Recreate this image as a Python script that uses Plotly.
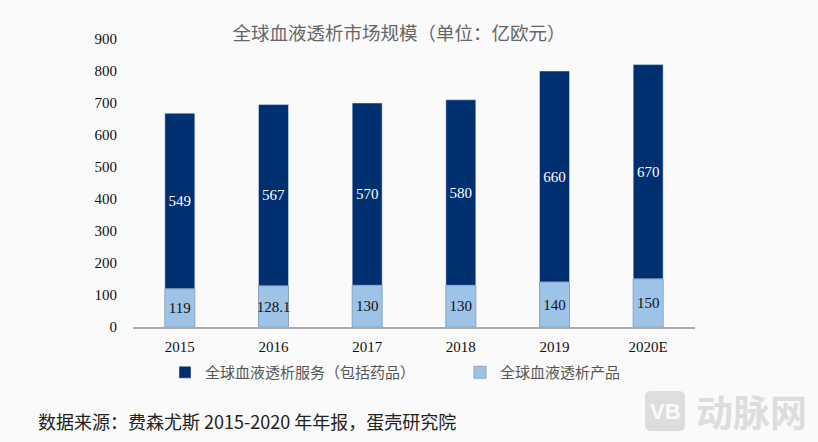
import plotly.graph_objects as go

years = ["2015", "2016", "2017", "2018", "2019", "2020E"]
products = [119, 128.1, 130, 130, 140, 150]
services = [549, 567, 570, 580, 660, 670]
product_labels = ["119", "128.1", "130", "130", "140", "150"]
service_labels = ["549", "567", "570", "580", "660", "670"]
SERIF = "Liberation Serif, Noto Sans CJK SC"
CJK = "Noto Sans CJK SC"
BG = "#fafafa"
ML, MR = 20, 798
L, T, R, B = 133, 39, 695, 327


def px(x):
    return (x - ML) / (MR - ML)


def py(y):
    return (B - y) / (B - T)


def rounded(x0, y0, x1, y1, r):
    a0, a1, ar = px(x0), px(x1), r / (MR - ML)
    b0, b1, br = py(y1), py(y0), r / (B - T)
    return (f"M{a0+ar},{b0} L{a1-ar},{b0} Q{a1},{b0} {a1},{b0+br} L{a1},{b1-br} Q{a1},{b1} {a1-ar},{b1} "
            f"L{a0+ar},{b1} Q{a0},{b1} {a0},{b1-br} L{a0},{b0+br} Q{a0},{b0} {a0+ar},{b0} Z")


fig = go.Figure()
fig.add_bar(x=years, y=services, base=products, name="全球血液透析服务（包括药品）", marker_color="#003070",
            text=service_labels, textposition="inside", insidetextanchor="middle", textangle=0, constraintext="none",
            textfont=dict(color="white", size=15, family=SERIF))
fig.add_bar(x=years, y=products, name="全球血液透析产品", marker_color="#9DC3E6",
            marker_line=dict(color="#8aa5c0", width=1),
            text=product_labels, textposition="inside", insidetextanchor="middle", textangle=0, constraintext="none",
            textfont=dict(color="#111", size=15, family=SERIF))
fig.update_layout(
    barmode="overlay", width=818, height=442, bargap=0.68, autosize=False,
    paper_bgcolor=BG, plot_bgcolor=BG,
    margin=dict(l=ML, r=818 - MR, t=T, b=442 - B),
    title=dict(text="全球血液透析市场规模（单位：亿欧元）", x=399 / 818, xanchor="center", y=1 - 34 / 442, yanchor="middle",
               font=dict(family=CJK, size=18.5, color="#666")),
    legend=dict(orientation="h", x=px(165), xanchor="left", y=py(356), yanchor="top",
                traceorder="normal", font=dict(family=CJK, size=15, color="#555"), itemwidth=30,
                entrywidth=250, entrywidthmode="pixels", bgcolor="rgba(0,0,0,0)"),
    xaxis=dict(domain=[px(L), px(R)], showgrid=False, showline=True, linecolor="#aaaaaa", linewidth=2,
               ticks="outside", ticklen=5, tickcolor=BG, tickfont=dict(family=SERIF, size=15, color="#111")),
    yaxis=dict(range=[0, 900], dtick=100, showgrid=False, showline=False, ticks="",
               tickfont=dict(family=SERIF, size=15, color="#111"), ticksuffix="    "),
    shapes=[dict(type="path", xref="paper", yref="paper", path=rounded(645, 391, 685, 431, 6),
                 fillcolor="#dddddd", line_width=0, layer="below")],
    annotations=[
        dict(text="数据来源：费森尤斯 2015-2020 年年报，蛋壳研究院", xref="paper", yref="paper",
             x=px(36), y=py(421), xanchor="left", yanchor="middle", showarrow=False,
             font=dict(family=CJK, size=18, color="#222")),
        dict(text="<b>VB</b>", xref="paper", yref="paper", x=px(665), y=py(411), xanchor="center", yanchor="middle",
             showarrow=False, font=dict(family="Liberation Sans", size=22, color=BG)),
        dict(text="<b>动脉网</b>", xref="paper", yref="paper", x=px(809), y=py(411), xanchor="right", yanchor="middle",
             showarrow=False, font=dict(family=CJK, size=37, color="#dddddd")),
    ],
)
fig.write_html("out.html", config=dict(displayModeBar=False),
               post_script="document.body.style.margin='0';document.body.style.overflow='hidden';")
